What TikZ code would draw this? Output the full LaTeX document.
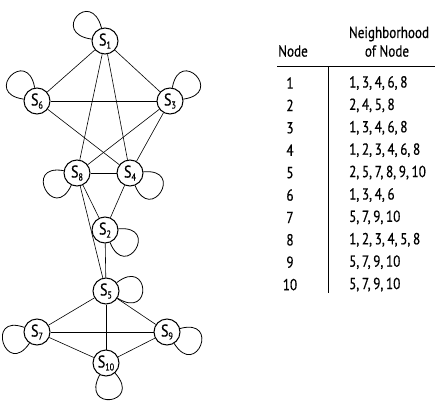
\documentclass[tikz,border=0pt]{standalone}
\usepackage{fontspec}
\setmainfont{PT Sans}[FakeStretch=0.82,FakeBold=0.6]
\newcommand{\sn}[1]{S\raisebox{-3pt}{\fontsize{10}{10}\selectfont #1}}
\begin{document}
\begin{tikzpicture}[x=1pt,y=-1pt,
  st/.style={circle,draw,line width=1pt,inner sep=0pt,minimum size=26pt,font=\fontsize{17}{17}\selectfont},
  ed/.style={line width=0.6pt},
  lp/.style={line width=0.8pt,min distance=42pt},
  tx/.style={font=\fontsize{16}{16}\selectfont,inner sep=0pt}]
\useasboundingbox (0,0) rectangle (436,401);
% nodes
\node[st] (s1) at (105,41) {\sn{1}};
\node[st] (s6) at (37,101) {\sn{6}};
\node[st] (s3) at (170,101) {\sn{3}};
\node[st] (s8) at (77,173) {\sn{8}};
\node[st] (s4) at (130,173) {\sn{4}};
\node[st] (s2) at (105,230) {\sn{2}};
\node[st] (s5) at (106,291) {\sn{5}};
\node[st] (s7) at (37,332) {\sn{7}};
\node[st] (s9) at (167,332) {\sn{9}};
\node[st] (s10) at (106,363) {\sn{10}};
% edges
\draw[ed] (s1) -- (s6);
\draw[ed] (s1) -- (s3);
\draw[ed] (s1) -- (s8);
\draw[ed] (s1) -- (s4);
\draw[ed] (s6) -- (s3);
\draw[ed] (s6) -- (s4);
\draw[ed] (s3) -- (s8);
\draw[ed] (s3) -- (s4);
\draw[ed] (s8) -- (s4);
\draw[ed] (s8) -- (s2);
\draw[ed] (s4) -- (s2);
\draw[ed] (s8) -- (s5);
\draw[ed] (s2) -- (s5);
\draw[ed] (s5) -- (s7);
\draw[ed] (s5) -- (s9);
\draw[ed] (s5) -- (s10);
\draw[ed] (s7) -- (s9);
\draw[ed] (s7) -- (s10);
\draw[ed] (s9) -- (s10);
% loops
\draw[lp] (s1) to[out=105,in=172] (s1);
\draw[lp] (s6) to[out=100,in=172] (s6);
\draw[lp] (s3) to[out=8,in=80] (s3);
\draw[lp] (s8) to[out=170,in=245] (s8);
\draw[lp] (s4) to[out=5,in=-68] (s4);
\draw[lp] (s2) to[out=5,in=-68] (s2);
\draw[lp] (s5) to[out=38,in=-32] (s5);
\draw[lp] (s7) to[out=160,in=236] (s7);
\draw[lp] (s9) to[out=15,in=-58] (s9);
\draw[lp] (s10) to[out=-48,in=-118] (s10);
% table
\node[tx] (hn) at (389,34) {Neighborhood};
\node[tx] (ho) at (387,51) {of Node};
\node[tx] (hd) at (293,51) {Node};
\coordinate (hl1) at (277,67);
\coordinate (hl2) at (435,67);
\coordinate (vl1) at (328,67);
\coordinate (vl2) at (328,293);
\draw[line width=1pt] (hl1) -- (hl2);
\draw[line width=1pt] (vl1) -- (vl2);
\foreach \n/\l [count=\i] in {1/{1,\,3,\,4,\,6,\,8},2/{2,\,4,\,5,\,8},3/{1,\,3,\,4,\,6,\,8},4/{1,\,2,\,3,\,4,\,6,\,8},5/{2,\,5,\,7,\,8,\,9,\,10},6/{1,\,3,\,4,\,6},7/{5,\,7,\,9,\,10},8/{1,\,2,\,3,\,4,\,5,\,8},9/{5,\,7,\,9,\,10},10/{5,\,7,\,9,\,10}}{
  \node[tx] (n\i) at (290,{83+22.4*(\i-1)}) {\n};
  \node[tx,anchor=west] (l\i) at (349,{83+22.4*(\i-1)}) {\l};
}
\end{tikzpicture}
\end{document}
